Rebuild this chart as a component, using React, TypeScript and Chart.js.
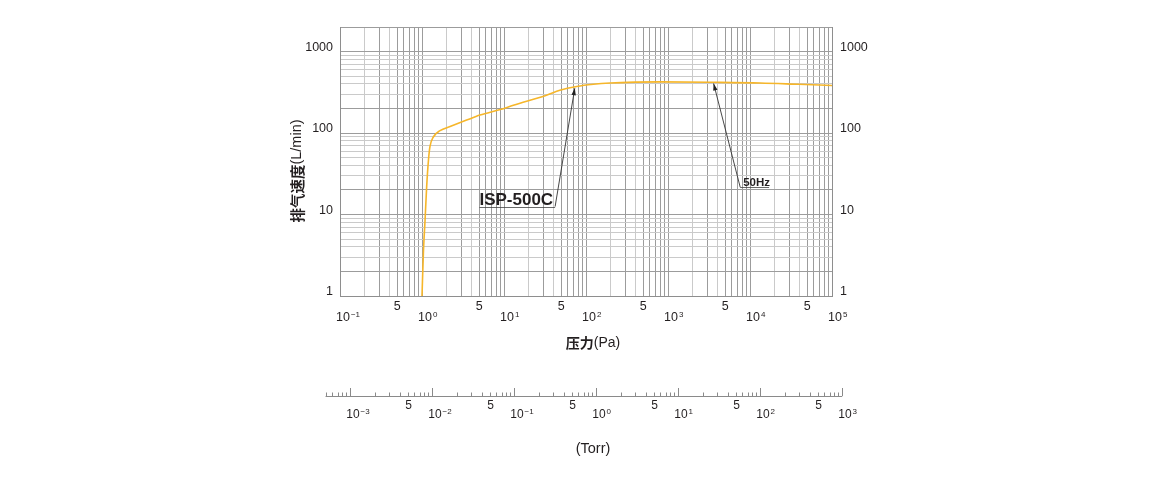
import React, { useEffect, useRef } from "react";
import { Chart, registerables } from "chart.js";

Chart.register(...registerables);

// ---------------- data ----------------
const pressurePa = [
  1.0, 1.04, 1.09, 1.14, 1.2, 1.25, 1.38, 1.66, 2.2, 3.5, 5.1, 9, 13, 33, 48, 77, 123, 197, 400, 800, 3600,
  13300, 39000, 100000,
];
const pumpingSpeed = [
  1, 3.4, 8.6, 22, 47, 68, 90, 107, 120, 144, 166, 194, 219, 291, 334, 372, 396, 411, 421, 424, 419, 411,
  396, 383,
];
const seriesName = "ISP-500C";

const yLabelValues = [1, 10, 100, 1000];
const paDecadeExponents = [-1, 0, 1, 2, 3, 4, 5];
const paFiveValues = [0.5, 5, 50, 500, 5000, 50000];
const torrDecadeExponents = [-3, -2, -1, 0, 1, 2, 3];
const torrFiveValues = [0.005, 0.05, 0.5, 5, 50, 500];
const torrMin = 0.0005;
const torrMax = 1000;
const PA_PER_TORR = 133.322;

const calloutTexts = ["ISP-500C", "50Hz"];
const calloutTipPa = [73, 3600];
const calloutTipSpeed = [355, 405];
const calloutElbowPa = [42, 7600];
const calloutElbowSpeed = [12.5, 21.6];
const calloutSide = ["left", "right"];

const xAxisTitleCJK = "压力";
const xAxisTitleLatin = "(Pa)";
const yAxisTitleCJK = "排气速度";
const yAxisTitleLatin = "(L/min)";
const torrTitle = "(Torr)";

// ---------------- helpers ----------------
function logGrid(minExp: number, maxExp: number): number[] {
  const out: number[] = [];
  for (let e = minExp; e < maxExp; e++) {
    for (let m = 1; m <= 9; m++) out.push(+(m * Math.pow(10, e)).toPrecision(6));
  }
  out.push(Math.pow(10, maxExp));
  return out;
}
function mantissa(v: number): number {
  const e = Math.floor(Math.log10(v) + 1e-9);
  return Math.round(v / Math.pow(10, e));
}
const xGridValues = logGrid(-1, 5);
const yGridValues = [...logGrid(0, 3), 2000];

const TEXT = "#231f20";
const GRID_DARK = "#9c9c9c";
const GRID_LIGHT = "#cacaca";
const LATIN = '"Liberation Sans", Arial, sans-serif';
const CJK = '"Noto Sans CJK SC", sans-serif';

function superscriptMinus(e: number): string {
  return e < 0 ? "\u2212" + String(-e) : String(e);
}

function drawPower(ctx: CanvasRenderingContext2D, x: number, baseline: number, e: number, size: number) {
  ctx.textAlign = "left";
  ctx.textBaseline = "alphabetic";
  ctx.font = `${size}px ${LATIN}`;
  ctx.fillText("10", x, baseline);
  const w = ctx.measureText("10").width;
  ctx.font = `${Math.round(size * 0.66)}px ${LATIN}`;
  ctx.fillText(superscriptMinus(e), x + w + 1, baseline - 4);
}

function drawArrow(ctx: CanvasRenderingContext2D, x1: number, y1: number, x2: number, y2: number) {
  ctx.strokeStyle = "#333";
  ctx.lineWidth = 0.9;
  ctx.beginPath();
  ctx.moveTo(x1, y1);
  ctx.lineTo(x2, y2);
  ctx.stroke();
  const ang = Math.atan2(y2 - y1, x2 - x1);
  const len = 7;
  const hw = 2.2;
  ctx.fillStyle = "#222";
  ctx.beginPath();
  ctx.moveTo(x2, y2);
  ctx.lineTo(x2 - len * Math.cos(ang) + hw * Math.sin(ang), y2 - len * Math.sin(ang) - hw * Math.cos(ang));
  ctx.lineTo(x2 - len * Math.cos(ang) - hw * Math.sin(ang), y2 - len * Math.sin(ang) + hw * Math.cos(ang));
  ctx.closePath();
  ctx.fill();
}

const overlayPlugin = {
  id: "overlay",
  afterDraw(chart: any) {
    const ctx: CanvasRenderingContext2D = chart.ctx;
    const xs = chart.scales.x;
    const ys = chart.scales.y;
    ctx.save();
    ctx.fillStyle = TEXT;

    // Pa axis labels
    for (const v of paFiveValues) {
      const px = xs.getPixelForValue(v);
      ctx.font = `12.5px ${LATIN}`;
      ctx.textAlign = "center";
      ctx.textBaseline = "alphabetic";
      ctx.fillText("5", px, 310);
    }
    for (const e of paDecadeExponents) {
      const px = xs.getPixelForValue(Math.pow(10, e));
      drawPower(ctx, px - 4, 321, e, 12.5);
    }

    // Pa axis title
    {
      ctx.textBaseline = "middle";
      ctx.textAlign = "left";
      ctx.font = `bold 14px ${CJK}`;
      const w1 = ctx.measureText(xAxisTitleCJK).width;
      ctx.font = `14px ${LATIN}`;
      const w2 = ctx.measureText(xAxisTitleLatin).width;
      const cx = (xs.left + xs.right) / 2 + 7;
      const x0 = cx - (w1 + w2) / 2;
      ctx.font = `bold 14px ${CJK}`;
      ctx.fillText(xAxisTitleCJK, x0, 343);
      ctx.font = `14px ${LATIN}`;
      ctx.fillText(xAxisTitleLatin, x0 + w1, 343);
    }

    // Y axis title (rotated)
    {
      ctx.save();
      ctx.translate(297, 171);
      ctx.rotate(-Math.PI / 2);
      ctx.textBaseline = "middle";
      ctx.textAlign = "left";
      ctx.font = `bold 14.5px ${CJK}`;
      const w1 = ctx.measureText(yAxisTitleCJK).width;
      ctx.font = `14.5px ${LATIN}`;
      const w2 = ctx.measureText(yAxisTitleLatin).width;
      const x0 = -(w1 + w2) / 2;
      ctx.font = `bold 14.5px ${CJK}`;
      ctx.fillText(yAxisTitleCJK, x0, 0);
      ctx.font = `14.5px ${LATIN}`;
      ctx.fillText(yAxisTitleLatin, x0 + w1, 0);
      ctx.restore();
    }

    // Torr axis
    {
      const axisY = 396;
      const xL = xs.getPixelForValue(torrMin * PA_PER_TORR);
      const xR = xs.getPixelForValue(torrMax * PA_PER_TORR);
      ctx.strokeStyle = "#8a8a8a";
      ctx.lineWidth = 1;
      ctx.beginPath();
      ctx.moveTo(xL, axisY + 0.5);
      ctx.lineTo(xR, axisY + 0.5);
      ctx.stroke();
      for (let e = -4; e <= 3; e++) {
        for (let m = 1; m <= 9; m++) {
          const v = m * Math.pow(10, e);
          if (v < torrMin * 0.999 || v > torrMax * 1.001) continue;
          const px = Math.round(xs.getPixelForValue(v * PA_PER_TORR)) + 0.5;
          const h = m === 1 ? 8 : 3.5;
          ctx.beginPath();
          ctx.moveTo(px, axisY);
          ctx.lineTo(px, axisY - h);
          ctx.stroke();
        }
      }
      ctx.fillStyle = TEXT;
      for (const v of torrFiveValues) {
        const px = xs.getPixelForValue(v * PA_PER_TORR);
        ctx.font = `12px ${LATIN}`;
        ctx.textAlign = "center";
        ctx.textBaseline = "alphabetic";
        ctx.fillText("5", px + 1, 409);
      }
      for (const e of torrDecadeExponents) {
        const px = xs.getPixelForValue(Math.pow(10, e) * PA_PER_TORR);
        drawPower(ctx, px - 4, 418, e, 12);
      }
      ctx.font = `14.5px ${LATIN}`;
      ctx.textAlign = "center";
      ctx.textBaseline = "middle";
      ctx.fillText(torrTitle, (xs.left + xs.right) / 2 + 7, 449);
    }

    // Callouts
    for (let i = 0; i < calloutTexts.length; i++) {
      const tx = xs.getPixelForValue(calloutTipPa[i]);
      const ty = ys.getPixelForValue(calloutTipSpeed[i]);
      const ex = xs.getPixelForValue(calloutElbowPa[i]);
      const ey = ys.getPixelForValue(calloutElbowSpeed[i]);
      const big = calloutSide[i] === "left";
      ctx.font = big ? `bold 17px ${LATIN}` : `bold 11.5px ${LATIN}`;
      const w = ctx.measureText(calloutTexts[i]).width;
      ctx.fillStyle = TEXT;
      ctx.textBaseline = "alphabetic";
      let ux1: number;
      let ux2: number;
      if (big) {
        ctx.textAlign = "right";
        ctx.fillText(calloutTexts[i], ex - 2, ey - 1.5);
        ux1 = ex - 2 - w;
        ux2 = ex;
      } else {
        ctx.textAlign = "left";
        ctx.fillText(calloutTexts[i], ex + 3, ey - 1.5);
        ux1 = ex;
        ux2 = ex + 2 + w;
      }
      ctx.strokeStyle = "#444";
      ctx.lineWidth = 0.8;
      ctx.beginPath();
      ctx.moveTo(ux1, Math.round(ey) + 0.5);
      ctx.lineTo(ux2, Math.round(ey) + 0.5);
      ctx.stroke();
      drawArrow(ctx, ex, ey, tx, ty);
    }
    ctx.restore();
  },
};

export default function App() {
  const ref = useRef<HTMLCanvasElement>(null);
  useEffect(() => {
    const canvas = ref.current;
    if (!canvas) return;
    const chart = new Chart(canvas, {
      type: "line",
      data: {
        datasets: [
          {
            label: seriesName,
            data: pressurePa.map((p, i) => ({ x: p, y: pumpingSpeed[i] })),
            borderColor: "#f6b62a",
            borderWidth: 1.6,
            pointRadius: 0,
            fill: false,
            cubicInterpolationMode: "monotone",
            xAxisID: "x",
            yAxisID: "y",
          },
        ],
      },
      options: {
        responsive: false,
        animation: false,
        events: [],
        layout: { padding: { top: 27, left: 0, right: 0, bottom: 0 } },
        plugins: { legend: { display: false }, tooltip: { enabled: false } },
        scales: {
          x: {
            type: "logarithmic",
            position: "bottom",
            min: 0.1,
            max: 100000,
            afterBuildTicks: (s: any) => {
              s.ticks = xGridValues.map((v) => ({ value: v }));
            },
            afterFit: (s: any) => {
              s.height = 184;
            },
            ticks: { display: false },
            grid: {
              drawTicks: false,
              lineWidth: 1,
              color: (c: any) => {
                const m = mantissa(c.tick.value);
                return m === 2 || m === 4 ? GRID_LIGHT : GRID_DARK;
              },
            },
            border: { display: true, color: "#8e8e8e" },
          },
          y: {
            type: "logarithmic",
            position: "left",
            min: 1,
            max: 2000,
            afterBuildTicks: (s: any) => {
              s.ticks = yGridValues.map((v) => ({ value: v }));
            },
            afterFit: (s: any) => {
              s.width = 340;
            },
            ticks: {
              autoSkip: false,
              padding: 7,
              labelOffset: -4,
              color: TEXT,
              font: { family: "Liberation Sans", size: 12.5 },
              callback: (v: any) => (yLabelValues.includes(Number(v)) ? String(v) : ""),
            },
            grid: {
              drawTicks: false,
              lineWidth: 1,
              color: (c: any) => {
                const m = mantissa(c.tick.value);
                return m === 1 || m === 2 ? GRID_DARK : GRID_LIGHT;
              },
            },
            border: { display: true, color: "#8e8e8e" },
          },
          y2: {
            type: "logarithmic",
            position: "right",
            min: 1,
            max: 2000,
            afterBuildTicks: (s: any) => {
              s.ticks = yGridValues.map((v) => ({ value: v }));
            },
            afterFit: (s: any) => {
              s.width = 328;
            },
            ticks: {
              autoSkip: false,
              padding: 8,
              labelOffset: -4,
              color: TEXT,
              font: { family: "Liberation Sans", size: 12.5 },
              callback: (v: any) => (yLabelValues.includes(Number(v)) ? String(v) : ""),
            },
            grid: { display: false, drawTicks: false },
            border: { display: true, color: "#8e8e8e" },
          },
        },
      },
      plugins: [overlayPlugin],
    } as any);
    return () => chart.destroy();
  }, []);
  return (
    <div style={{ position: "fixed", left: 0, top: 0, width: 1160, height: 480, background: "#fff" }}>
      <canvas ref={ref} width={1160} height={480} style={{ width: 1160, height: 480, display: "block" }} />
    </div>
  );
}
